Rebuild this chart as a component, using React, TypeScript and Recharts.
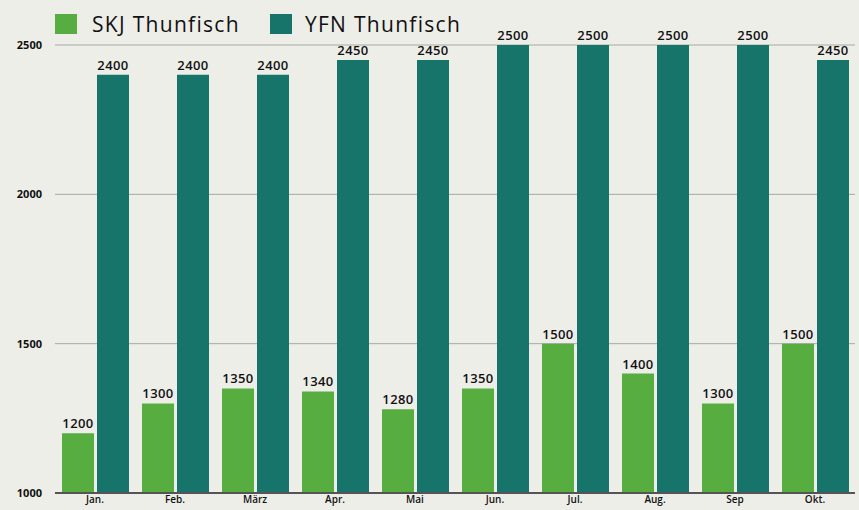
import React from 'react';
import { BarChart, Bar, XAxis, YAxis, CartesianGrid, LabelList } from 'recharts';

const months = ['Jan.', 'Feb.', 'März', 'Apr.', 'Mai', 'Jun.', 'Jul.', 'Aug.', 'Sep', 'Okt.'];
const skjValues = [1200, 1300, 1350, 1340, 1280, 1350, 1500, 1400, 1300, 1500];
const yfnValues = [2400, 2400, 2400, 2450, 2450, 2500, 2500, 2500, 2500, 2450];
const yTicks = [1000, 1500, 2000, 2500];

const GREEN = '#58ad40';
const TEAL = '#16746a';
const FONT = '"Open Sans", "DejaVu Sans", sans-serif';

const data = months.map((m, i) => ({ month: m, skj: skjValues[i], yfn: yfnValues[i] }));

const labelStyle = { fontFamily: FONT, fontSize: 13, fontWeight: 600, fill: '#111', letterSpacing: 0.4 };

// legend sits over the chart, so it does not push the plot down
const ChartLegend = () => (
  <div
    style={{
      position: 'absolute', left: 55, top: 10, display: 'flex', alignItems: 'center',
      fontFamily: FONT, fontSize: 21, fontWeight: 500, color: '#111', letterSpacing: 1.3,
    }}
  >
    <span style={{ width: 22, height: 20, background: GREEN, display: 'inline-block', marginRight: 15 }} />
    <span style={{ marginRight: 30 }}>SKJ Thunfisch</span>
    <span style={{ width: 22, height: 20, background: TEAL, display: 'inline-block', marginRight: 13 }} />
    <span>YFN Thunfisch</span>
  </div>
);

export default function App() {
  return (
    <div style={{ position: 'absolute', left: 0, top: 0, width: 859, height: 510, background: '#eeeee9', overflow: 'hidden' }}>
      <BarChart
        width={859}
        height={510}
        data={data}
        margin={{ top: 45, right: 4, bottom: 0, left: 0 }}
        barCategoryGap={7}
        barGap={3}
      >
        <CartesianGrid horizontal vertical={false} stroke="#a8a8a4" strokeWidth={1} />
        <XAxis
          dataKey="month"
          height={17}
          tickLine={false}
          tickSize={0}
          axisLine={{ stroke: '#555', strokeWidth: 2 }}
          tick={{ fontFamily: FONT, fontSize: 10, fontWeight: 600, fill: '#111' }}
          tickMargin={3}
          interval={0}
        />
        <YAxis
          domain={[1000, 2500]}
          ticks={yTicks}
          width={55}
          tickLine={false}
          axisLine={false}
          tickMargin={7}
          tick={{ fontFamily: FONT, fontSize: 11, fontWeight: 700, fill: '#111' }}
        />
        <Bar dataKey="skj" name="SKJ Thunfisch" fill={GREEN} isAnimationActive={false}>
          <LabelList dataKey="skj" position="top" offset={5} style={labelStyle} />
        </Bar>
        <Bar dataKey="yfn" name="YFN Thunfisch" fill={TEAL} isAnimationActive={false}>
          <LabelList dataKey="yfn" position="top" offset={5} style={labelStyle} />
        </Bar>
      </BarChart>
      <ChartLegend />
    </div>
  );
}
